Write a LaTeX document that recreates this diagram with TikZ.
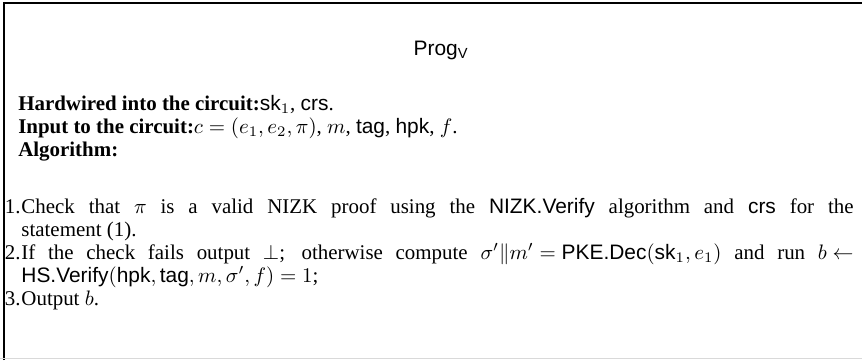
\documentclass[tikz,border=0pt]{standalone}
\usepackage{amsmath}
\usepackage[no-math]{fontspec}
\setmainfont{Liberation Serif}
\setsansfont{Liberation Sans}
\usetikzlibrary{positioning}

\tikzset{
  txt/.style={inner sep=0pt, anchor=base west},
  lbl/.style={inner sep=0pt, anchor=base east}
}
\newcommand{\fullline}[1]{\makebox[13.98cm][s]{#1}}

\begin{document}
\begin{tikzpicture}
      \useasboundingbox (0,0) rectangle (14.48,6.05);

      % frame: top and left in black, bottom faint
      \draw[line width=1pt] (0.067,0) -- (0.067,6.0) -- (14.48,6.0);
      \draw[gray!30,line width=0.5pt] (0,0.02) -- (14.48,0.02);

      % title
      \node[inner sep=0pt, anchor=base] (title) at (7.41,5.12) {\textsf{Prog}$_{\textsf{V}}$};

      % header lines
      \node[txt] (hwired) at (0.30,4.20) {\textbf{Hardwired into the circuit:}\textsf{sk}$_1$, \textsf{crs}.};
      \node[txt] (inputs) at (0.30,3.815) {\textbf{Input to the circuit:}$c=(e_1,e_2,\pi)$, $m$, \textsf{tag}, \textsf{hpk}, $f$.};
      \node[txt] (algo) at (0.30,3.428) {\textbf{Algorithm:}};

      % steps of the algorithm
      \node[txt] (stepA) at (0.353,2.470) {\fullline{Check that $\pi$ is a valid NIZK proof using the \textsf{NIZK.Verify} algorithm and \textsf{crs} for the}};
      \node[txt] (stepAb) at (0.353,2.084) {statement (1).};
      \node[txt] (stepB) at (0.353,1.697) {\fullline{If the check fails output $\bot$; otherwise compute \mbox{$\sigma'\|m' = \textsf{PKE.Dec}(\textsf{sk}_1, e_1)$} and run \mbox{$b \leftarrow$}}};
      \node[txt] (stepBb) at (0.353,1.311) {$\textsf{HS.Verify}(\textsf{hpk}, \textsf{tag}, m, \sigma', f) = 1$;};
      \node[txt] (stepC) at (0.353,0.924) {Output $b$.};

      % step numbers
      \node[lbl] (numA) at (stepA.base west) {1.};
      \node[lbl] (numB) at (stepB.base west) {2.};
      \node[lbl] (numC) at (stepC.base west) {3.};
    \end{tikzpicture}
\end{document}
